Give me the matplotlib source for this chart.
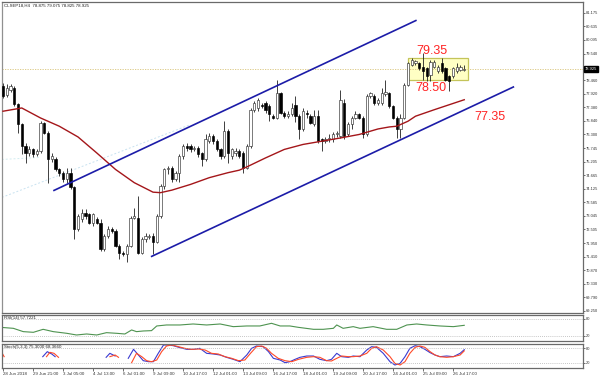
import numpy as np
import matplotlib
matplotlib.use('Agg')
import matplotlib.pyplot as plt
import matplotlib.patches as mpatches
from matplotlib.transforms import blended_transform_factory

plt.rcParams['font.family'] = ['Liberation Sans', 'DejaVu Sans']

# ---- candle data (H4 bars) ----
opens = [78.22, 77.89, 78.09, 78.16, 77.50, 76.70, 75.83, 75.56, 75.70, 75.50,
         75.63, 76.76, 76.36, 75.30, 75.30, 74.90, 74.77, 74.50, 74.77, 74.20,
         72.50, 72.90, 73.17, 73.10, 72.77, 72.90, 72.77, 71.71, 72.24, 72.50,
         72.44, 71.84, 71.57, 71.50, 71.84, 72.97, 72.97, 71.57, 72.11, 72.20,
         72.24, 72.00, 73.04, 74.24, 74.90, 74.97, 74.50, 74.77, 75.43, 75.83,
         75.83, 75.70, 75.76, 75.56, 75.30, 76.03, 76.23, 76.03, 75.70, 75.43,
         76.43, 75.43, 75.56, 75.63, 75.56, 74.97, 75.83, 77.29, 77.36, 77.49,
         77.56, 77.43, 77.03, 76.96, 77.96, 77.16, 77.03, 77.10, 77.49, 77.03,
         76.50, 77.16, 77.03, 76.70, 77.03, 76.10, 76.03, 76.10, 76.10, 76.30,
         76.23, 77.56, 76.30, 76.70, 76.96, 77.10, 76.96, 76.30, 77.82, 77.82,
         77.56, 77.56, 77.90, 77.96, 77.43, 76.96, 76.50, 76.96, 78.29, 79.09,
         79.16, 79.155, 79.02, 78.96, 78.69, 79.02, 78.82, 79.155, 78.96, 78.62,
         78.62, 78.82, 78.89, 78.875]
highs = [78.36, 78.30, 78.30, 78.22, 77.56, 76.76, 75.96, 75.83, 75.76, 75.70,
         76.83, 76.80, 76.45, 75.56, 75.40, 74.97, 74.85, 74.97, 74.97, 74.24,
         73.10, 73.30, 73.30, 73.17, 73.17, 73.00, 72.90, 72.30, 72.64, 72.60,
         72.50, 71.90, 71.65, 71.90, 73.04, 73.37, 73.84, 72.20, 72.37, 72.30,
         72.37, 73.10, 74.30, 74.97, 75.03, 75.03, 74.85, 75.50, 75.90, 75.96,
         75.90, 75.85, 75.83, 75.60, 76.30, 76.36, 76.30, 76.10, 75.76, 76.83,
         76.50, 75.76, 75.76, 75.70, 75.63, 75.90, 77.36, 77.63, 77.76, 77.56,
         77.63, 77.50, 77.10, 78.49, 78.00, 77.23, 77.23, 77.56, 77.82, 77.10,
         77.36, 77.29, 77.10, 77.29, 77.29, 76.16, 76.20, 76.30, 76.40, 76.45,
         78.09, 77.70, 76.80, 77.03, 77.23, 77.16, 77.03, 77.90, 78.00, 77.90,
         77.76, 78.16, 78.49, 78.00, 77.49, 77.03, 77.10, 78.36, 79.22, 79.35,
         79.29, 79.22, 79.55, 79.02, 79.29, 79.29, 79.09, 79.35, 79.02, 78.69,
         79.02, 79.16, 79.09, 79.075]
lows = [77.76, 77.80, 78.00, 77.43, 76.36, 75.50, 75.17, 75.43, 75.40, 75.45,
        75.56, 76.30, 74.37, 75.20, 74.85, 74.63, 74.40, 74.37, 74.10, 72.11,
        72.45, 72.80, 72.90, 72.70, 72.64, 72.70, 71.65, 71.65, 72.15, 72.35,
        71.78, 71.31, 71.44, 71.20, 71.78, 72.90, 71.50, 71.50, 72.00, 72.10,
        71.50, 71.95, 72.97, 74.10, 74.70, 74.40, 74.45, 74.40, 75.30, 75.65,
        75.60, 75.63, 75.40, 75.03, 75.25, 75.96, 75.90, 75.63, 75.30, 75.36,
        75.17, 75.30, 75.45, 75.36, 74.77, 74.90, 75.76, 77.20, 77.23, 77.36,
        77.16, 76.83, 76.90, 76.90, 77.10, 76.96, 76.96, 77.03, 76.80, 76.10,
        76.45, 76.96, 76.70, 76.63, 75.96, 75.63, 75.96, 76.00, 76.00, 76.20,
        76.16, 76.10, 76.23, 76.50, 76.90, 76.90, 76.16, 76.23, 77.76, 77.49,
        77.49, 77.49, 77.82, 77.36, 76.90, 76.16, 76.16, 76.90, 78.22, 79.05,
        79.09, 78.89, 78.49, 78.42, 78.42, 78.96, 78.76, 78.76, 78.42, 78.02,
        78.55, 78.76, 78.82, 78.825]
closes = [77.82, 78.16, 78.22, 77.50, 76.70, 75.83, 75.56, 75.70, 75.50, 75.63,
          76.76, 76.36, 75.30, 75.43, 74.90, 74.77, 74.50, 74.77, 74.20, 72.50,
          73.04, 73.17, 73.04, 72.77, 73.10, 72.77, 71.71, 72.24, 72.50, 72.44,
          71.84, 71.57, 71.50, 71.84, 72.97, 73.04, 71.57, 72.11, 72.24, 72.24,
          72.00, 73.04, 74.24, 74.90, 74.97, 74.50, 74.77, 75.43, 75.83, 75.76,
          75.70, 75.76, 75.50, 75.30, 76.10, 76.23, 76.03, 75.70, 75.43, 76.43,
          75.56, 75.70, 75.63, 75.43, 74.97, 75.83, 77.29, 77.56, 77.69, 77.43,
          77.29, 77.10, 76.96, 77.96, 77.16, 77.03, 77.10, 77.36, 77.03, 76.50,
          77.23, 77.10, 76.76, 77.03, 76.03, 76.03, 76.10, 76.16, 76.30, 76.36,
          77.69, 76.23, 76.70, 76.96, 77.10, 76.96, 76.30, 77.82, 77.96, 77.56,
          77.69, 77.96, 78.00, 77.43, 76.96, 76.50, 76.96, 78.29, 79.16, 79.29,
          79.25, 78.96, 78.82, 78.62, 79.22, 79.22, 79.02, 78.82, 78.49, 78.42,
          78.96, 79.02, 79.02, 78.925]

# moving average
ma_x = [0, 5, 10, 15, 20, 25, 30, 35, 40, 42, 45, 50, 55, 60, 63, 65, 70, 75,
        80, 85, 90, 95, 100, 103, 105, 108, 110, 115, 123]
ma_y = [77.23, 77.36, 76.96, 76.63, 76.20, 75.56, 74.90, 74.37, 73.99, 73.97,
        74.07, 74.30, 74.57, 74.77, 74.87, 75.00, 75.36, 75.70, 75.90, 76.03,
        76.16, 76.30, 76.52, 76.60, 76.63, 76.83, 77.03, 77.29, 77.69]

# drawn objects
chan_upper = ([13.6, 110.1], [74.06, 80.86])
chan_lower = ([39.65, 136.1], [71.42, 78.20])
faint_a = ([-0.3, 49.9], [73.78, 76.69])
faint_b = ([-0.3, 9.9], [75.30, 75.38])
box_x = (107.9, 124.1)
box_y = (78.48, 79.36)
last_price = 78.925

price_ticks = [81.175, 80.635, 80.095, 79.540, 78.460, 77.920, 77.380, 76.840,
               76.300, 75.745, 75.205, 74.665, 74.125, 73.585, 73.045, 72.505,
               71.950, 71.410, 70.870, 70.330, 69.790, 69.250]

# RSI(14)
rsi_x = [-0.8, 2.75, 5.4, 8.1, 10.7, 13.4, 17, 19.6, 22.3, 25, 27.6, 30.3, 32.5,
         34.3, 35.6, 37.4, 39.6, 41, 43.6, 47.2, 50.7, 54.3, 57.9, 61.4, 65,
         68.5, 71.6, 73.9, 76.5, 78.7, 82.8, 85.4, 88.1, 89, 90.7, 93.4, 95.2,
         98.7, 102.3, 105, 107.7, 110.3, 113, 116.5, 120.1, 123]
rsi_vals = [50.7, 47.1, 35.4, 33.0, 43.6, 35.4, 29.5, 23.6, 27.1, 23.6, 31.8,
            29.5, 27.1, 41.3, 35.4, 37.7, 38.9, 55.4, 58.9, 58.9, 62.4, 58.9,
            62.4, 53.0, 55.4, 55.4, 64.8, 55.4, 55.4, 50.7, 43.6, 43.6, 47.1,
            58.9, 47.1, 53.0, 47.1, 53.0, 43.6, 43.6, 58.9, 62.4, 58.9, 55.4,
            53.0, 57.7]

nan = np.nan
# Stochastic(5,3,3): main (blue) and signal (red), gaps where not drawn
k_x = [-0.8, -0.36, nan, 10.6, 11.8, 13.0, 13.9, nan, 27.5, 28.5, 29.9, nan,
       33.4, 34.8, 36.1, 37.4, 38.8, 40.1, 41.4, 42.8, 44.1, 45.4, 47.2, 49.0,
       50.8, 52.5, 54.3, 56.1, 57.9, 59.6, 61.4, 63.2, 65.0, 66.3, 67.6, 69.4,
       70.8, 72.1, 73.9, 75.2, 76.5, 77.9, 79.2, 81.0, 82.8, 84.5, 86.3, 87.6,
       89.0, 90.3, 92.1, 93.4, 95.2, 97.0, 98.3, 99.6, 101.4, 103.2, 104.5,
       105.9, 107.2, 108.5, 109.9, 111.2, 112.5, 113.9, 115.2, 116.5, 118.3,
       120.1, 121.9, 123.0]
k_vals = [58.7, 45.3, nan, 45.3, 65.3, 56.0, 45.3, nan, 42.7, 58.7, 48.0, nan,
          38.7, 74.7, 52.0, 29.3, 25.3, 25.3, 58.7, 92.0, 92.0, 89.3, 81.3, 74.7,
          74.7, 78.7, 58.7, 56.0, 52.0, 42.7, 34.7, 25.3, 52.0, 78.7, 88.0, 85.3,
          65.3, 38.7, 32.0, 21.3, 25.3, 34.7, 42.7, 48.0, 48.0, 34.7, 29.3, 34.7,
          58.7, 45.3, 42.7, 48.0, 45.3, 72.0, 85.3, 82.7, 58.7, 25.3, 12.0,
          18.7, 45.3, 78.7, 89.3, 85.3, 74.7, 61.3, 52.0, 45.3, 48.0,
          45.3, 58.7, 73.3]
d_x = [-0.8, 0.3, nan, 11.6, 12.5, 13.6, 14.8, nan, 28.5, 29.9, 30.8, nan,
       34.3, 35.6, 37.0, 38.3, 39.6, 41.0, 42.3, 43.6, 45.0, 46.8, 48.5, 50.3,
       52.1, 53.9, 55.6, 57.4, 59.2, 61.0, 62.8, 64.5, 66.0, 67.6, 69.0, 70.3,
       71.6, 73.4, 75.2, 77.0, 78.8, 81.0, 82.8, 84.5, 86.3, 87.6, 89.0, 90.3,
       92.1, 93.4, 95.2, 97.0, 98.3, 99.6, 101.4, 103.2, 104.5, 105.9, 107.2,
       108.5, 109.9, 111.2, 112.5, 113.9, 115.2, 116.5, 118.3, 120.1, 121.9,
       123.0]
d_vals = [74.7, 45.3, nan, 45.3, 62.7, 58.7, 42.7, nan, 45.3, 52.0, 42.7, nan,
          21.3, 58.7, 45.3, 29.3, 25.3, 32.0, 65.3, 88.0, 92.0, 85.3, 78.7, 74.7,
          76.0, 72.0, 58.7, 56.0, 45.3, 38.7, 29.3, 32.0, 58.7, 85.3, 88.0, 78.7,
          58.7, 38.7, 29.3, 25.3, 34.7, 42.7, 45.3, 42.7, 29.3, 28.0, 38.7, 48.0,
          45.3, 45.3, 48.0, 58.7, 78.7, 85.3, 72.0, 45.3, 18.7, 12.0, 25.3,
          58.7, 82.7, 88.0, 82.7, 65.3, 52.0, 45.3, 42.7, 45.3, 52.0,
          68.4]

date_ticks = list(range(0, 121, 8))
date_labels = ['28 Jun 2018', '29 Jun 21:00', '3 Jul 05:00', '4 Jul 13:00',
               '6 Jul 01:00', '9 Jul 09:00', '10 Jul 17:00', '12 Jul 01:00',
               '13 Jul 09:00', '16 Jul 17:00', '18 Jul 01:00', '19 Jul 09:00',
               '20 Jul 17:00', '24 Jul 01:00', '25 Jul 09:00', '26 Jul 17:00']

# ------------- figure layout (pixel based) -------------
W, H = 600, 376
fig = plt.figure(figsize=(W / 100, H / 100), dpi=100)


def panel(top, bottom, **kw):
    return fig.add_axes([2 / W, 1 - bottom / H, 581 / W, (bottom - top) / H], **kw)


ax = panel(2, 313)
ax_rsi = panel(315, 341, sharex=ax)
ax_st = panel(344, 368, sharex=ax)

small = 3.2
ytick_fs = 2.9
for a in (ax, ax_rsi, ax_st):
    a.set_facecolor('white')
    for s in a.spines.values():
        s.set_color('#6a6a6a')
        s.set_linewidth(0.9)
    a.tick_params(axis='y', left=False, labelleft=False, right=True,
                  labelright=True, length=1.5, width=0.5, labelsize=ytick_fs,
                  pad=0.8, colors='#333333')
    a.tick_params(axis='x', bottom=False, labelbottom=False)
ax.spines['left'].set_linestyle((0, (1, 1)))
ax.spines['left'].set_color('#909090')

# ---- main price panel ----
x = np.arange(len(closes))
o = np.array(opens)
c = np.array(closes)
up = c >= o
body_lo = np.minimum(o, c)
body_h = np.maximum(np.abs(c - o), 0.02)

box = mpatches.Rectangle((box_x[0], box_y[0]), box_x[1] - box_x[0], box_y[1] - box_y[0],
                         facecolor='#ffffc4', edgecolor='#c4c45a', linewidth=0.9, zorder=1)
ax.add_patch(box)

ax.plot(*faint_a, color='#c8e2f0', lw=0.7, ls=(0, (2, 2)), zorder=1)
ax.plot(*faint_b, color='#d2ecf0', lw=0.7, ls=(0, (2, 2)), zorder=1)
ax.axhline(last_price, color='#d8c47a', lw=0.6, ls=(0, (1.5, 1.5)), zorder=1)

ax.vlines(x, lows, highs, color='#202020', lw=0.6, zorder=3)
ax.bar(x[up], body_h[up], bottom=body_lo[up], width=0.62, color='white',
       edgecolor='#303030', linewidth=0.45, zorder=3)
ax.bar(x[~up], body_h[~up], bottom=body_lo[~up], width=0.62, color='black',
       edgecolor='black', linewidth=0.45, zorder=3)

ax.plot(ma_x, ma_y, color='#a4161a', lw=1.0, zorder=4)
ax.plot(*chan_upper, color='#1c1ca8', lw=1.2, zorder=5)
ax.plot(*chan_lower, color='#1c1ca8', lw=1.2, zorder=5)

red = '#ff2424'
ax.text(114.4, 79.63, '79.35', color=red, fontsize=9, ha='center', va='center', zorder=6)
ax.text(114.1, 78.17, '78.50', color=red, fontsize=9, ha='center', va='center', zorder=6)
ax.text(129.9, 77.01, '77.35', color=red, fontsize=9, ha='center', va='center', zorder=6)

ax.set_xlim(-0.27, 154.67)
ax.set_ylim(69.153, 81.602)
ax.set_yticks(price_ticks)
ax.set_yticklabels([f'{t:.3f}' for t in price_ticks])

trans = blended_transform_factory(ax.transAxes, ax.transData)
ax.text(1.003, last_price, f'{last_price:.3f}', transform=trans, color='white',
        fontsize=ytick_fs, va='center', ha='left', zorder=7, clip_on=False,
        bbox=dict(boxstyle='square,pad=0.25', facecolor='black', edgecolor='black'))

ax.text(0.003, 0.994, 'CLSEP18,H4  78.875 79.075 78.825 78.925', transform=ax.transAxes,
        fontsize=small, va='top', ha='left', color='#202020')

# ---- RSI panel ----
ax_rsi.plot(rsi_x, rsi_vals, color='#4e9350', lw=0.8)
for lvl in (80, 20):
    ax_rsi.axhline(lvl, color='#b4b4b4', lw=0.6, ls=(0, (1, 1.5)))
ax_rsi.set_ylim(2.35, 94.1)
ax_rsi.set_yticks([80, 20])
ax_rsi.set_yticklabels(['80', '20'])
ax_rsi.text(0.003, 0.96, 'RSI(14) 57.7221', transform=ax_rsi.transAxes,
            fontsize=small, va='top', ha='left', color='#202020')

# ---- Stochastic panel ----
ax_st.plot(k_x, k_vals, color='#3a3ad0', lw=0.8)
ax_st.plot(d_x, d_vals, color='#ff4a28', lw=0.8)
for lvl in (80, 20):
    ax_st.axhline(lvl, color='#b4b4b4', lw=0.6, ls=(0, (1, 1.5)))
ax_st.set_ylim(0, 96)
ax_st.set_yticks([80, 20])
ax_st.set_yticklabels(['80', '20'])
ax_st.text(0.003, 0.95, 'Stoch(5,3,3) 75.3000 68.3660', transform=ax_st.transAxes,
           fontsize=small, va='top', ha='left', color='#202020')

ax_st.tick_params(axis='x', bottom=True, labelbottom=True, length=2, width=0.5,
                  labelsize=small, pad=1.0, colors='#333333')
ax_st.set_xticks(date_ticks)
ax_st.set_xticklabels(date_labels)
for lab in ax_st.get_xticklabels():
    lab.set_ha('left')

fig.savefig('out.png', dpi=100)
